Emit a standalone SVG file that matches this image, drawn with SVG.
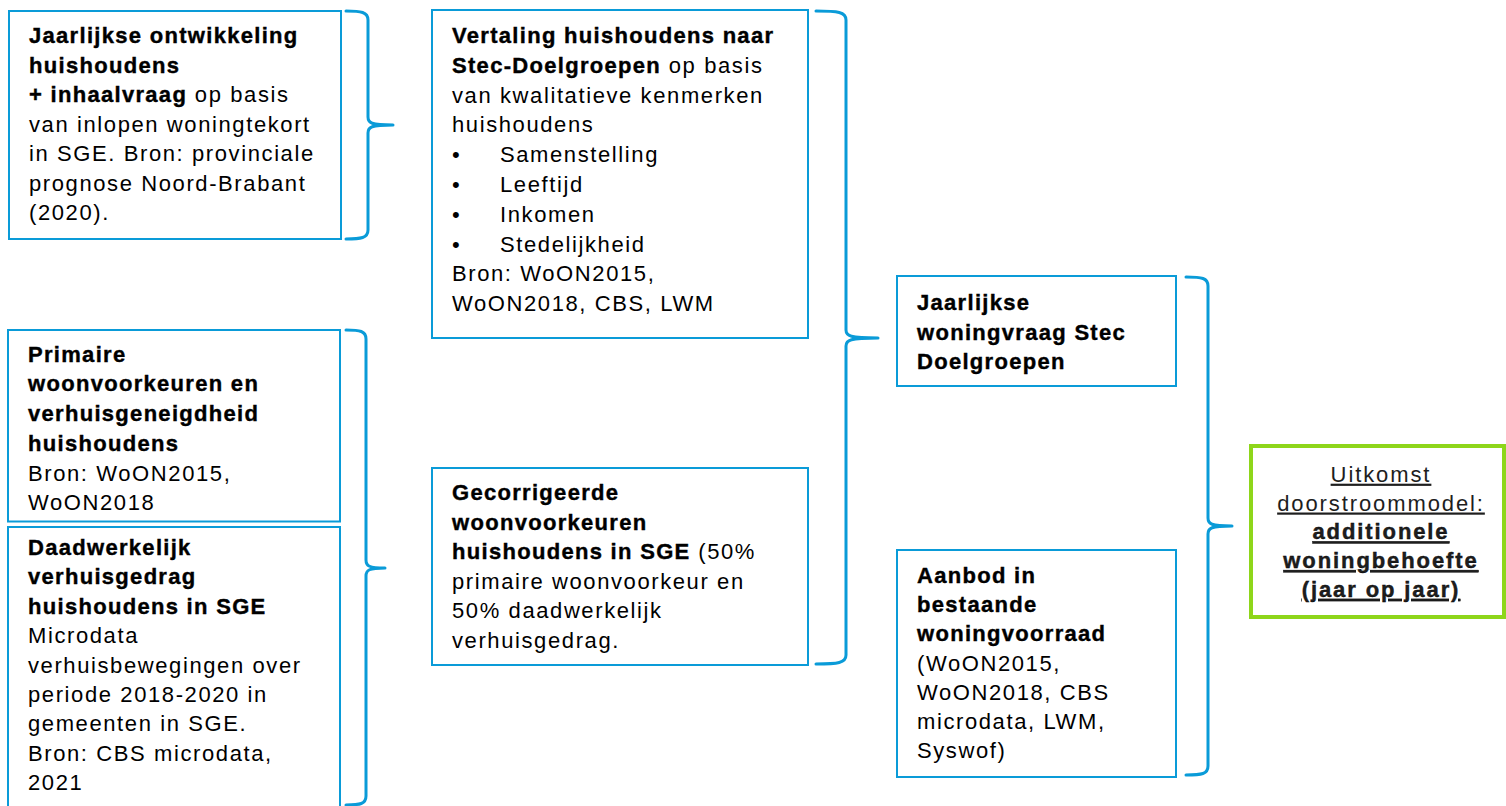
<svg xmlns="http://www.w3.org/2000/svg" width="1506" height="806" viewBox="0 0 1506 806">
  <style>
    .box { fill: #ffffff; stroke: #0a9bd8; stroke-width: 2; }
    .goal { fill: #ffffff; stroke: #8ed61a; stroke-width: 4; }
    .brace { fill: none; stroke: #0a9bd8; stroke-width: 3; stroke-linecap: round; stroke-linejoin: round; }
    text { font-family: "Liberation Sans", Arial, Helvetica, sans-serif; font-size: 22px; letter-spacing: 1.6px; fill: #000000; }
    .b { font-weight: bold; stroke: #000000; stroke-width: 0.4; letter-spacing: 1.3px; }
    .u { text-decoration: underline; }
    .c { text-anchor: middle; fill: #1e1e1e; letter-spacing: 1.9px; }
  </style>

  <!-- connectors: curly braces joining inputs to the next step -->
  <g id="connectors">
    <path class="brace" d="M346,11 C361,11 368,12 368,20 L368,117 C368,123 371,125 393,125 C371,125 368,127 368,133 L368,230 C368,238 361,239 346,239"/>
    <path class="brace" d="M346,330 C360,330 366,331 366,339 L366,560 C366,566 369,568 385,568 C369,568 366,570 366,576 L366,796 C366,804 360,805 346,805"/>
    <path class="brace" d="M816,11 C838,11 846,12 846,20 L846,330 C846,336 850,338 878,338 C850,338 846,340 846,346 L846,655 C846,663 838,664 816,664"/>
    <path class="brace" d="M1186,277 C1202,277 1208,278 1208,286 L1208,518 C1208,524 1211,526 1232,526 C1211,526 1208,528 1208,534 L1208,766 C1208,774 1202,775 1186,775"/>
  </g>

  <g id="node-ontwikkeling">
    <rect class="box" x="9" y="11" width="332" height="228"/>
    <text x="29" y="43" class="b">Jaarlijkse ontwikkeling</text>
    <text x="29" y="72.5" class="b">huishoudens</text>
    <text x="29" y="102"><tspan class="b">+ inhaalvraag</tspan> op basis</text>
    <text x="29" y="131.5">van inlopen woningtekort</text>
    <text x="29" y="161">in SGE. Bron: provinciale</text>
    <text x="29" y="190.5">prognose Noord-Brabant</text>
    <text x="29" y="220">(2020).</text>
  </g>

  <g id="node-vertaling">
    <rect class="box" x="432" y="10" width="376" height="328"/>
    <text x="452" y="43" class="b">Vertaling huishoudens naar</text>
    <text x="452" y="72.8"><tspan class="b">Stec-Doelgroepen</tspan> op basis</text>
    <text x="452" y="102.6">van kwalitatieve kenmerken</text>
    <text x="452" y="132.4">huishoudens</text>
    <text x="452" y="162.2">•</text><text x="500" y="162.2">Samenstelling</text>
    <text x="452" y="192">•</text><text x="500" y="192">Leeftijd</text>
    <text x="452" y="221.8">•</text><text x="500" y="221.8">Inkomen</text>
    <text x="452" y="251.6">•</text><text x="500" y="251.6">Stedelijkheid</text>
    <text x="452" y="281.4">Bron: WoON2015,</text>
    <text x="452" y="311.2">WoON2018, CBS, LWM</text>
  </g>

  <g id="node-primaire">
    <rect class="box" x="8" y="330" width="332" height="191.5"/>
    <text x="28" y="361.7" class="b">Primaire</text>
    <text x="28" y="391.4" class="b">woonvoorkeuren en</text>
    <text x="28" y="421" class="b">verhuisgeneigdheid</text>
    <text x="28" y="450.8" class="b">huishoudens</text>
    <text x="28" y="480.5">Bron: WoON2015,</text>
    <text x="28" y="510.2">WoON2018</text>
  </g>

  <g id="node-daadwerkelijk">
    <rect class="box" x="8" y="527" width="332" height="300"/>
    <text x="28" y="555" class="b">Daadwerkelijk</text>
    <text x="28" y="584.4" class="b">verhuisgedrag</text>
    <text x="28" y="613.8" class="b">huishoudens in SGE</text>
    <text x="28" y="643.2">Microdata</text>
    <text x="28" y="672.6">verhuisbewegingen over</text>
    <text x="28" y="702">periode 2018-2020 in</text>
    <text x="28" y="731.4">gemeenten in SGE.</text>
    <text x="28" y="760.8">Bron: CBS microdata,</text>
    <text x="28" y="790.2">2021</text>
  </g>

  <g id="node-gecorrigeerd">
    <rect class="box" x="432" y="468" width="376" height="197"/>
    <text x="452" y="500" class="b">Gecorrigeerde</text>
    <text x="452" y="529.6" class="b">woonvoorkeuren</text>
    <text x="452" y="559.2"><tspan class="b">huishoudens in SGE</tspan> (50%</text>
    <text x="452" y="588.8">primaire woonvoorkeur en</text>
    <text x="452" y="618.4">50% daadwerkelijk</text>
    <text x="452" y="648">verhuisgedrag.</text>
  </g>

  <g id="node-woningvraag">
    <rect class="box" x="897" y="276" width="279" height="110"/>
    <text x="917" y="310" class="b">Jaarlijkse</text>
    <text x="917" y="339.5" class="b">woningvraag Stec</text>
    <text x="917" y="369" class="b">Doelgroepen</text>
  </g>

  <g id="node-aanbod">
    <rect class="box" x="897" y="550" width="279" height="227"/>
    <text x="917" y="583" class="b">Aanbod in</text>
    <text x="917" y="612.2" class="b">bestaande</text>
    <text x="917" y="641.4" class="b">woningvoorraad</text>
    <text x="917" y="670.6">(WoON2015,</text>
    <text x="917" y="699.8">WoON2018, CBS</text>
    <text x="917" y="729">microdata, LWM,</text>
    <text x="917" y="758.2">Syswof)</text>
  </g>

  <g id="node-uitkomst">
    <rect class="goal" x="1251" y="446" width="253" height="171"/>
    <text x="1381" y="481.7" class="c u">Uitkomst</text>
    <text x="1381" y="510.5" class="c u">doorstroommodel:</text>
    <text x="1381" y="539.3" class="c u b">additionele</text>
    <text x="1381" y="568.1" class="c u b">woningbehoefte</text>
    <text x="1381" y="596.9" class="c u b">(jaar op jaar)</text>
  </g>
</svg>
